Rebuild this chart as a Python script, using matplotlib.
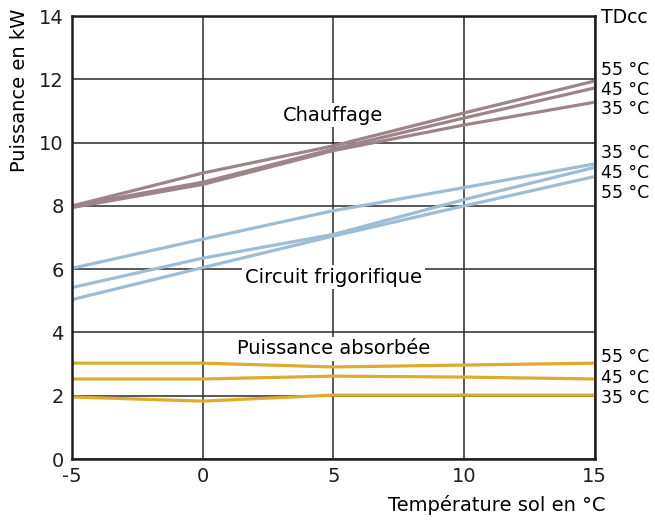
import matplotlib.pyplot as plt

plt.rcParams['font.family'] = ['DejaVu Sans']
plt.rcParams['axes.unicode_minus'] = False

# temperature sol (°C)
temp_sol = [-5, 0, 5, 10, 15]

# Chauffage (kW) per TDcc
chauffage_55 = [8.0, 9.04, 9.9, 10.94, 11.95]
chauffage_45 = [8.0, 8.75, 9.8, 10.78, 11.73]
chauffage_35 = [7.95, 8.68, 9.75, 10.56, 11.28]

# Circuit frigorifique (kW)
frigo_35 = [6.03, 6.95, 7.85, 8.58, 9.33]
frigo_45 = [5.42, 6.35, 7.1, 8.2, 9.22]
frigo_55 = [5.04, 6.05, 7.05, 8.0, 8.93]

# Puissance absorbée (kW)
absorbee_55 = [3.03, 3.03, 2.91, 2.97, 3.03]
absorbee_45 = [2.53, 2.53, 2.62, 2.59, 2.53]
absorbee_35 = [1.96, 1.83, 2.02, 2.02, 2.02]

right_labels = [
    (12.3, "55 °C"), (11.68, "45 °C"), (11.05, "35 °C"),
    (9.67, "35 °C"), (9.04, "45 °C"), (8.4, "55 °C"),
    (3.22, "55 °C"), (2.57, "45 °C"), (1.93, "35 °C"),
]

brown = "#9c858a"
blue = "#9dbcd5"
yellow = "#deab2c"

fig = plt.figure(figsize=(6.55, 5.21), dpi=100)
ax = fig.add_axes([0.110, 0.119, 0.798, 0.850])

for ys in (chauffage_55, chauffage_45, chauffage_35):
    ax.plot(temp_sol, ys, color=brown, lw=2.3, zorder=4, solid_capstyle='butt')
for ys in (frigo_35, frigo_45, frigo_55):
    ax.plot(temp_sol, ys, color=blue, lw=2.3, zorder=4, solid_capstyle='butt')
for ys in (absorbee_55, absorbee_45, absorbee_35):
    ax.plot(temp_sol, ys, color=yellow, lw=2.3, zorder=4, solid_capstyle='butt')

ax.set_xlim(-5, 15)
ax.set_ylim(0, 14)
ax.set_xticks([-5, 0, 5, 10, 15])
ax.set_yticks(range(0, 15, 2))
ax.grid(True, color="#2a2a2a", lw=1.1, zorder=1)
for s in ax.spines.values():
    s.set_linewidth(1.8)
    s.set_color("#1e1e1e")
    s.set_zorder(5)
ax.tick_params(length=0, labelsize=14, colors="#1e1e1e", pad=6)

box = dict(facecolor="white", edgecolor="none", pad=2)
ax.text(5, 10.87, "Chauffage", ha="center", va="center", fontsize=14, bbox=box, zorder=3)
ax.text(5, 5.75, "Circuit frigorifique", ha="center", va="center", fontsize=14, bbox=box, zorder=3)
ax.text(5, 3.48, "Puissance absorbée", ha="center", va="center", fontsize=14, bbox=box, zorder=3)

tr = ax.get_yaxis_transform()
ax.text(1.012, 13.95, "TDcc", transform=tr, ha="left", va="center", fontsize=13.5, clip_on=False)
for y, lab in right_labels:
    ax.text(1.012, y, lab, transform=tr, ha="left", va="center", fontsize=12.5, clip_on=False)

fig.text(20 / 655, 1 - 90 / 521, "Puissance en kW", rotation=90, ha="center", va="center", fontsize=14)
fig.text(605 / 655, 1 - 505 / 521, "Température sol en °C", ha="right", va="center", fontsize=14)

fig.savefig("out.png")
